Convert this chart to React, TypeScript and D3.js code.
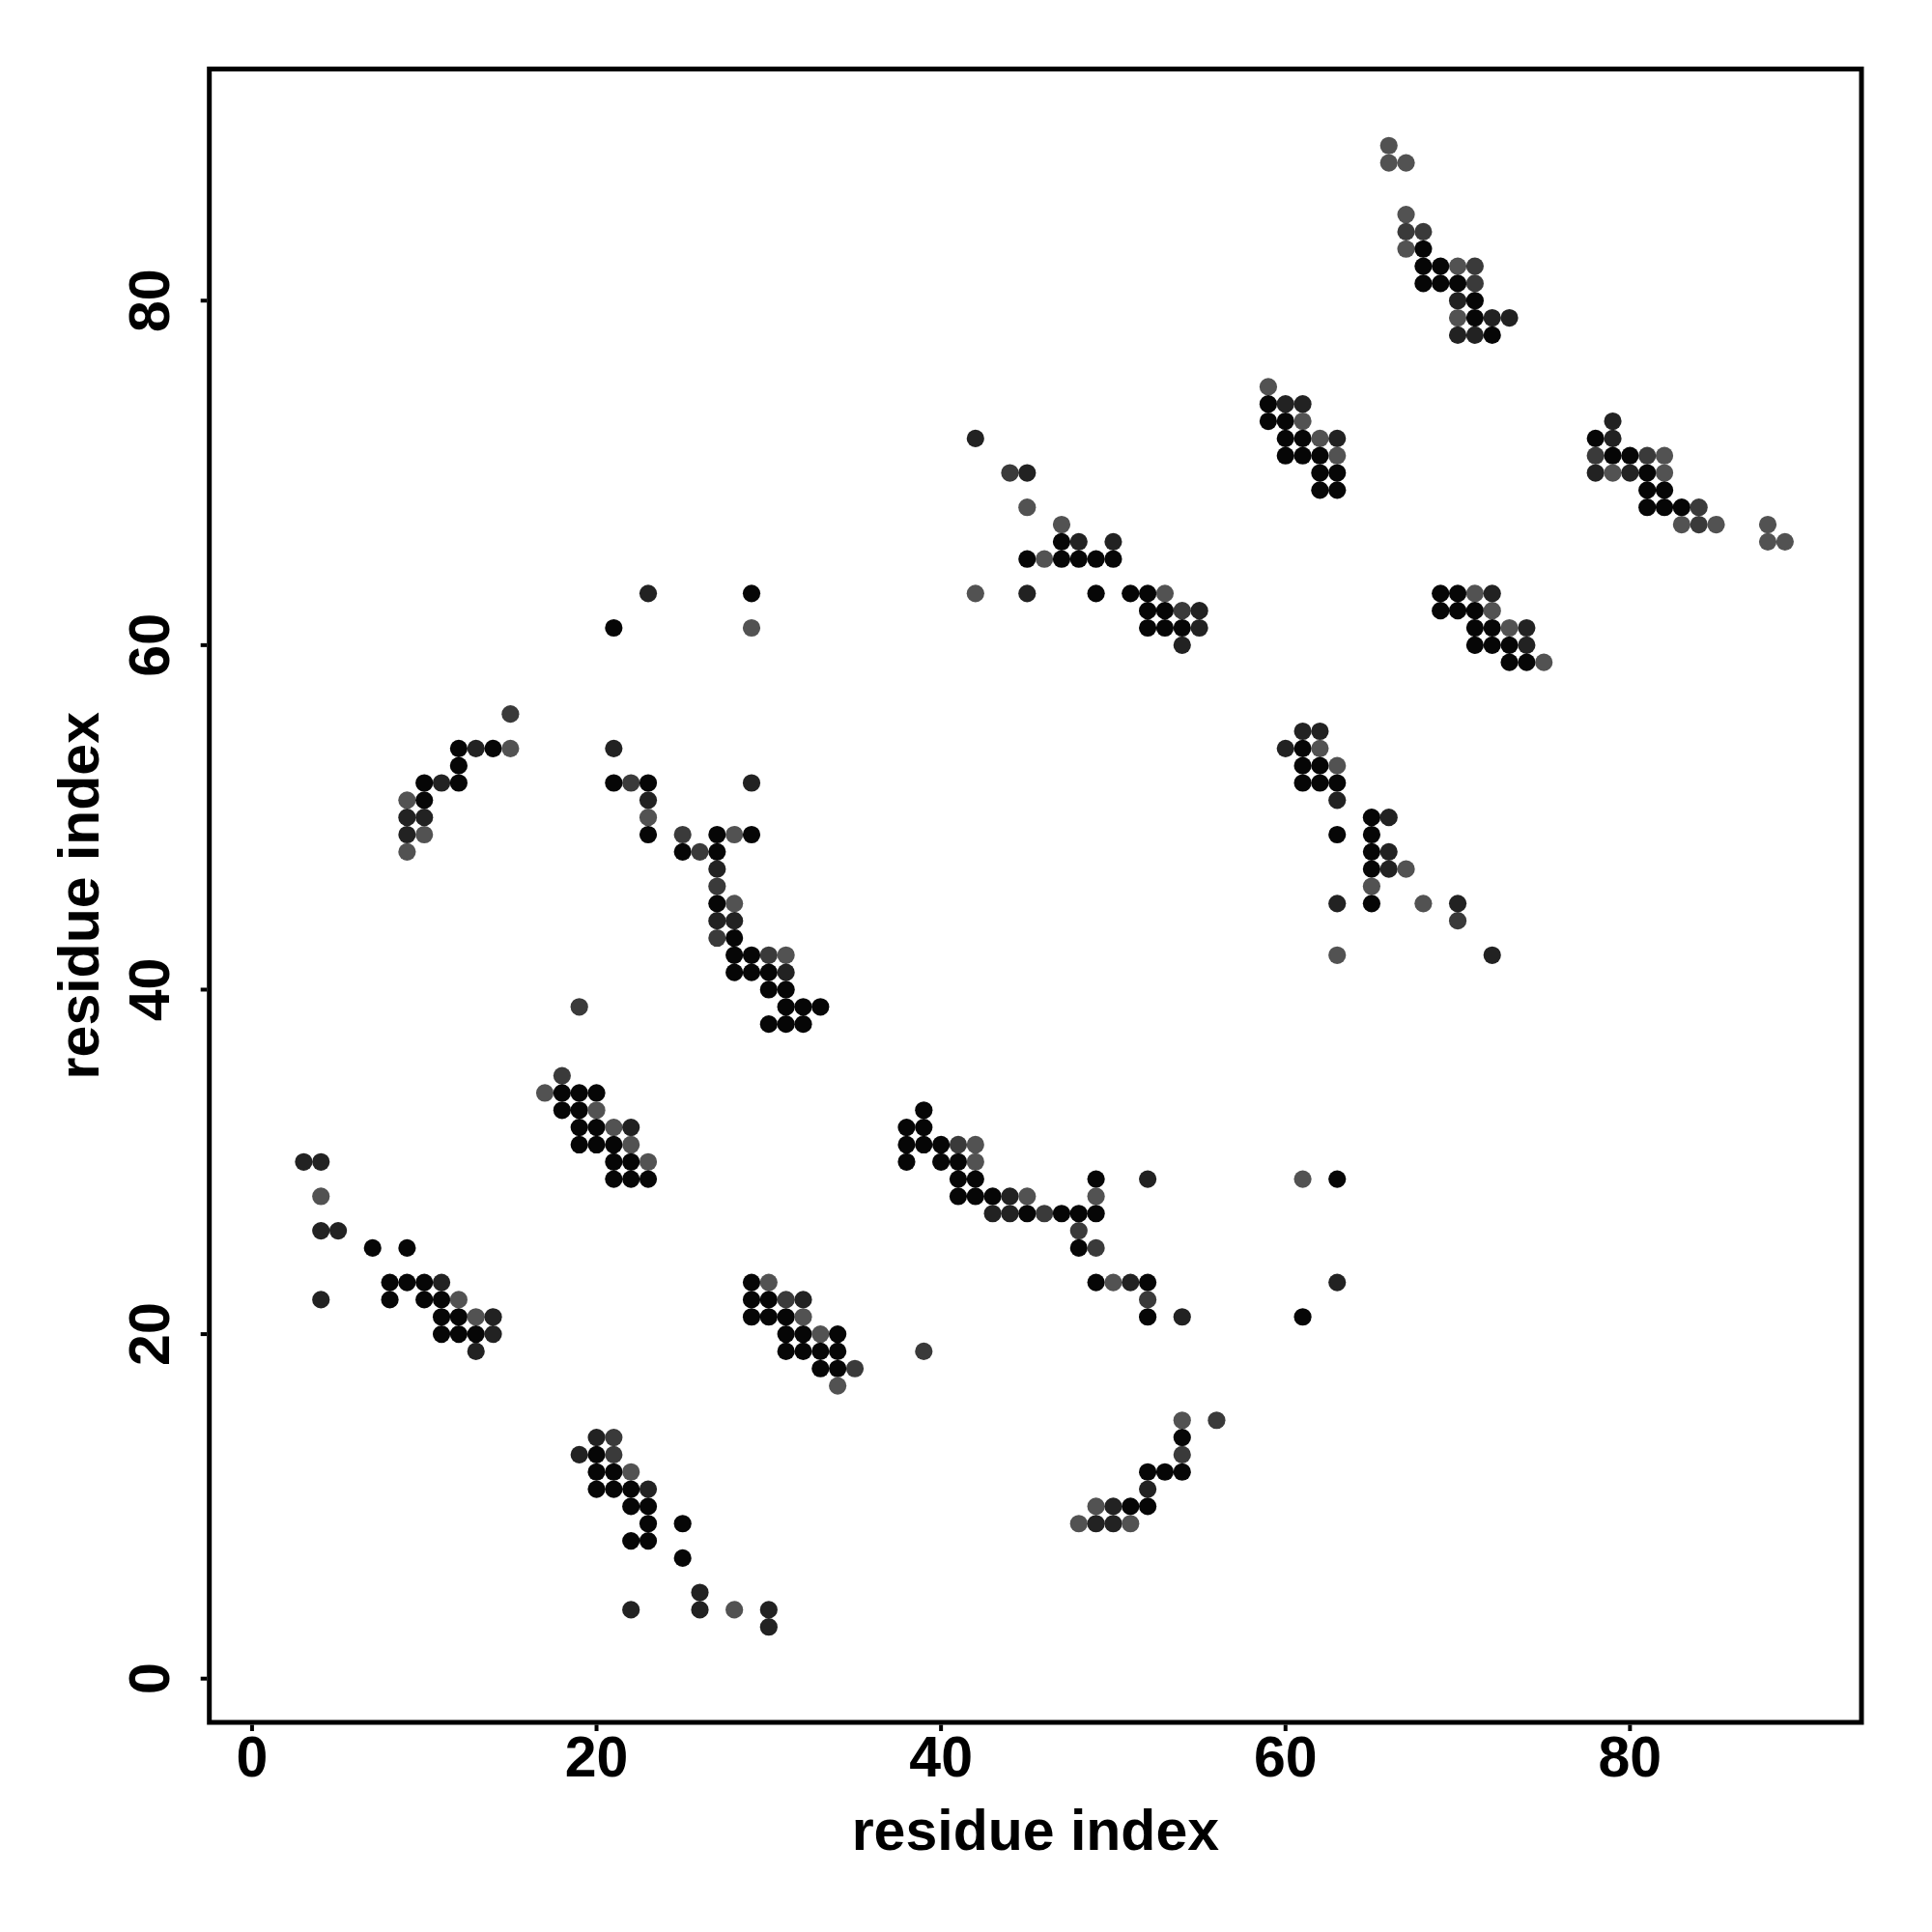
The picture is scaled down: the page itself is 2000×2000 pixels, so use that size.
import React from "react";
import * as d3 from "d3";

// shade levels: 0 = black, 1 = very dark, 2 = dark grey, 3 = grey
const shadeColors = ["#060606", "#222222", "#3a3a3a", "#525252"];

const xTicks = [0, 20, 40, 60, 80];
const yTicks = [0, 20, 40, 60, 80];
const xLabel = "residue index";
const yLabel = "residue index";

// [i, j, shade]
const contactsLower: [number, number, number][] = [
  [19,39,2],[18,35,2],
  [17,34,3],[18,34,0],[19,34,0],[20,34,0],
  [18,33,0],[19,33,0],[20,33,3],
  [19,32,0],[20,32,0],[21,32,3],[22,32,1],
  [19,31,0],[20,31,0],[21,31,0],[22,31,3],
  [21,30,0],[22,30,0],[23,30,3],
  [21,29,0],[22,29,0],[23,29,0],
  [3,30,1],[4,30,1],[4,28,3],[4,26,1],[5,26,1],[7,25,0],[9,25,0],
  [8,23,0],[9,23,0],[10,23,0],[11,23,1],
  [4,22,1],[8,22,0],[10,22,0],[11,22,0],[12,22,3],
  [11,21,0],[12,21,0],[13,21,3],[14,21,1],
  [11,20,0],[12,20,0],[13,20,0],[14,20,1],
  [13,19,1],
  [29,23,0],[30,23,3],
  [29,22,0],[30,22,0],[31,22,2],[32,22,1],
  [29,21,0],[30,21,0],[31,21,0],[32,21,3],
  [31,20,0],[32,20,0],[33,20,3],[34,20,0],
  [31,19,0],[32,19,0],[33,19,0],[34,19,0],
  [33,18,0],[34,18,0],[35,18,2],
  [34,17,3],
  [20,14,1],[21,14,2],
  [19,13,1],[20,13,0],[21,13,2],
  [20,12,0],[21,12,0],[22,12,3],
  [20,11,0],[21,11,0],[22,11,0],[23,11,1],
  [22,10,0],[23,10,0],
  [23,9,0],[25,9,0],
  [22,8,0],[23,8,0],
  [25,7,0],
  [26,5,1],
  [22,4,1],[26,4,1],[28,4,3],[30,4,1],
  [30,3,1],
];

const contactsMiddle: [number, number, number][] = [
  [23,63,1],[29,63,0],
  [21,61,0],[29,61,3],
  [15,56,2],
  [12,54,0],[13,54,1],[14,54,0],[15,54,3],[21,54,1],
  [12,53,0],
  [10,52,0],[11,52,1],[12,52,0],[21,52,0],[22,52,2],[23,52,0],[29,52,1],
  [9,51,3],[10,51,0],[23,51,1],
  [9,50,1],[10,50,1],[23,50,3],
  [9,49,1],[10,49,3],[23,49,0],[25,49,2],[27,49,0],[28,49,3],[29,49,0],
  [9,48,3],[25,48,0],[26,48,2],[27,48,0],
  [27,47,1],
  [27,46,2],
  [27,45,0],[28,45,3],
  [27,44,1],[28,44,1],
  [27,43,2],[28,43,0],
  [28,42,0],[29,42,0],[30,42,2],[31,42,3],
  [28,41,0],[29,41,0],[30,41,0],[31,41,1],
  [30,40,0],[31,40,0],
  [31,39,0],[32,39,0],[33,39,0],
  [30,38,0],[31,38,0],[32,38,0],
  [39,33,0],
  [38,32,0],[39,32,0],
  [38,31,0],[39,31,0],[40,31,0],[41,31,2],[42,31,3],
  [38,30,0],[40,30,0],[41,30,0],[42,30,3],
  [41,29,0],[42,29,0],[49,29,0],[52,29,1],
  [41,28,0],[42,28,0],[43,28,0],[44,28,1],[45,28,3],[49,28,3],
  [43,27,1],[44,27,1],[45,27,0],[46,27,2],[47,27,0],[48,27,0],[49,27,0],
  [48,26,2],
  [48,25,0],[49,25,2],
  [49,23,0],[50,23,3],[51,23,1],[52,23,0],
  [52,22,2],
  [52,21,0],[54,21,1],
  [39,19,2],
  [54,15,3],[56,15,2],
  [54,14,0],
  [54,13,2],
  [52,12,0],[53,12,0],[54,12,0],
  [52,11,1],
  [49,10,3],[50,10,1],[51,10,0],[52,10,0],
  [48,9,3],[49,9,1],[50,9,1],[51,9,3],
];

const contactsUpper: [number, number, number][] = [
  [42,72,1],
  [44,70,2],[45,70,1],
  [45,68,3],
  [47,67,3],
  [47,66,0],[48,66,1],[50,66,1],
  [45,65,0],[46,65,3],[47,65,0],[48,65,0],[49,65,0],[50,65,0],
  [42,63,3],[45,63,1],[49,63,0],[51,63,0],[52,63,0],[53,63,3],
  [52,62,0],[53,62,0],[54,62,2],[55,62,1],
  [52,61,0],[53,61,0],[54,61,0],[55,61,1],
  [54,60,1],
  [59,75,3],
  [59,74,0],[60,74,1],[61,74,1],
  [59,73,0],[60,73,0],[61,73,3],
  [60,72,0],[61,72,0],[62,72,3],[63,72,1],
  [60,71,0],[61,71,0],[62,71,0],[63,71,3],
  [62,70,0],[63,70,0],
  [62,69,0],[63,69,0],
  [69,63,0],[70,63,0],[71,63,3],[72,63,1],
  [69,62,0],[70,62,0],[71,62,0],[72,62,3],
  [71,61,0],[72,61,0],[73,61,3],[74,61,1],
  [71,60,0],[72,60,0],[73,60,0],[74,60,1],
  [73,59,0],[74,59,0],[75,59,3],
  [61,55,1],[62,55,1],
  [60,54,1],[61,54,0],[62,54,3],
  [61,53,0],[62,53,0],[63,53,3],
  [61,52,0],[62,52,0],[63,52,0],
  [63,51,1],
  [65,50,0],[66,50,1],
  [63,49,0],[65,49,0],
  [65,48,0],[66,48,1],
  [65,47,0],[66,47,1],[67,47,3],
  [65,46,3],
  [63,45,1],[65,45,0],[68,45,3],[70,45,1],
  [70,44,2],
  [63,42,3],[72,42,1],
  [66,89,3],
  [66,88,3],[67,88,3],
  [67,85,3],
  [67,84,2],[68,84,2],
  [67,83,3],[68,83,0],
  [68,82,0],[69,82,0],[70,82,3],[71,82,2],
  [68,81,0],[69,81,0],[70,81,0],[71,81,2],
  [70,80,1],[71,80,0],
  [70,79,3],[71,79,0],[72,79,1],[73,79,1],
  [70,78,1],[71,78,1],[72,78,0],
  [79,73,1],
  [78,72,0],[79,72,1],
  [78,71,2],[79,71,0],[80,71,0],[81,71,2],[82,71,3],
  [78,70,1],[79,70,3],[80,70,1],[81,70,0],[82,70,3],
  [81,69,0],[82,69,0],
  [81,68,0],[82,68,0],[83,68,0],[84,68,2],
  [83,67,3],[84,67,2],[85,67,3],
  [88,67,3],
  [88,66,3],[89,66,3],
  [61,29,3],[63,29,0],
  [63,23,1],
  [61,21,0],
];

const contacts = [...contactsLower, ...contactsMiddle, ...contactsUpper];

export default function App() {
  const W = 2000, H = 2000;
  const left = 216.7, right = 1927, top = 71.4, bottom = 1783;
  const x = d3.scaleLinear().domain([-2.48, 93.44]).range([left, right]);
  const y = d3.scaleLinear().domain([-2.54, 93.45]).range([bottom, top]);
  const font = "'Liberation Sans', Arial, Helvetica, sans-serif";
  const fs = 59;
  return (
    <>
      <style>{`body{margin:0}`}</style>
      <svg width={W} height={H} style={{ display: "block", background: "#fff" }}>
        <rect x={0} y={0} width={W} height={H} fill="#fff" />
        <g>
          {contacts.map(([i, j, s], k) => (
            <circle key={k} cx={x(i)} cy={y(j)} r={9.1} fill={shadeColors[s]} />
          ))}
        </g>
        <rect x={left} y={top} width={right - left} height={bottom - top}
          fill="none" stroke="#000" strokeWidth={5} />
        {xTicks.map((t) => (
          <g key={"x" + t}>
            <line x1={x(t)} x2={x(t)} y1={bottom + 2.5} y2={bottom + 9} stroke="#000" strokeWidth={4} />
            <text x={x(t)} y={1839} textAnchor="middle" fontFamily={font} fontWeight="bold" fontSize={fs}>{t}</text>
          </g>
        ))}
        {yTicks.map((t) => (
          <g key={"y" + t}>
            <line x1={left - 2.5} x2={left - 9} y1={y(t)} y2={y(t)} stroke="#000" strokeWidth={4} />
            <text transform={`translate(175,${y(t)}) rotate(-90)`} textAnchor="middle"
              fontFamily={font} fontWeight="bold" fontSize={fs}>{t}</text>
          </g>
        ))}
        <text x={(left + right) / 2} y={1915} textAnchor="middle" fontFamily={font} fontWeight="bold" fontSize={fs}>{xLabel}</text>
        <text transform={`translate(102,${(top + bottom) / 2}) rotate(-90)`} textAnchor="middle"
          fontFamily={font} fontWeight="bold" fontSize={fs}>{yLabel}</text>
      </svg>
    </>
  );
}
